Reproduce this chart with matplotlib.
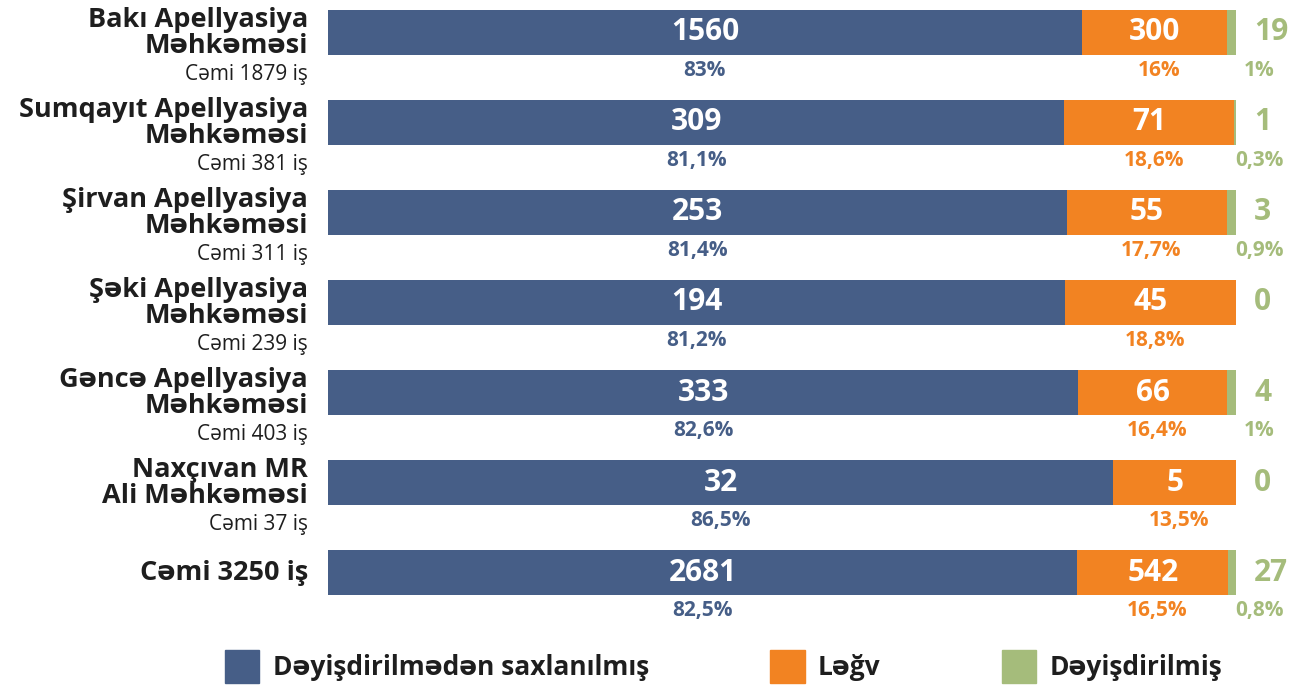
import numpy as np
import matplotlib
matplotlib.use("Agg")
from matplotlib import pyplot as plt
from matplotlib.patches import Patch

plt.rcParams['font.family'] = ['Open Sans', 'DejaVu Sans']

# data
courts = ["Bakı Apellyasiya\nMəhkəməsi", "Sumqayıt Apellyasiya\nMəhkəməsi",
          "Şirvan Apellyasiya\nMəhkəməsi", "Şəki Apellyasiya\nMəhkəməsi",
          "Gəncə Apellyasiya\nMəhkəməsi", "Naxçıvan MR\nAli Məhkəməsi", ""]
totals_txt = ["Cəmi 1879 iş", "Cəmi 381 iş", "Cəmi 311 iş", "Cəmi 239 iş",
              "Cəmi 403 iş", "Cəmi 37 iş", "Cəmi 3250 iş"]
kept = [1560, 309, 253, 194, 333, 32, 2681]
cancelled = [300, 71, 55, 45, 66, 5, 542]
changed = [19, 1, 3, 0, 4, 0, 27]
kept_pct = ["83%", "81,1%", "81,4%", "81,2%", "82,6%", "86,5%", "82,5%"]
canc_pct = ["16%", "18,6%", "17,7%", "18,8%", "16,4%", "13,5%", "16,5%"]
chg_pct = ["1%", "0,3%", "0,9%", "", "1%", "", "0,8%"]

blue = "#465E87"
orange = "#F28322"
green = "#A5BC7B"
dark = "#1E1E1E"

kept = np.array(kept)
cancelled = np.array(cancelled)
changed = np.array(changed)
tot = kept + cancelled + changed
k = kept / tot
c = cancelled / tot
g = changed / tot
y = np.arange(len(kept))

fig = plt.figure(figsize=(12.99, 6.86), dpi=100)
ax = fig.add_axes([328/1299, 0, 908/1299, 1])
h = 0.51
ax.barh(y, k, height=h, color=blue)
ax.barh(y, c, left=k, height=h, color=orange)
ax.barh(y, g, left=k + c, height=h, color=green)
ax.set_xlim(0, 1)
ax.set_ylim(7.261, -0.361)
ax.axis("off")

for i in y:
    ax.text(k[i]/2, i, str(kept[i]), ha="center", va="center", color="white",
            fontsize=21.5, fontweight="bold")
    ax.text(k[i] + c[i]/2, i, str(cancelled[i]), ha="center", va="center",
            color="white", fontsize=21.5, fontweight="bold")
    ax.text(1.02, i, str(changed[i]), ha="left", va="center", color=green,
            fontsize=21.5, fontweight="bold", clip_on=False)
    ax.text(k[i]/2, i + 0.42, kept_pct[i], ha="center", va="center", color=blue,
            fontsize=15, fontweight="bold")
    ax.text(k[i] + c[i]/2 + 0.005, i + 0.42, canc_pct[i], ha="center", va="center",
            color=orange, fontsize=15, fontweight="bold")
    ax.text(1.026, i + 0.42, chg_pct[i], ha="center", va="center", color=green,
            fontsize=15, fontweight="bold", clip_on=False)
    if courts[i]:
        ax.text(-0.022, i + 0.01, courts[i], ha="right", va="center", color=dark,
                fontsize=19.5, fontweight="bold", linespacing=1.0, clip_on=False)
        ax.text(-0.022, i + 0.47, totals_txt[i], ha="right", va="center", color=dark,
                fontsize=15, clip_on=False)
    else:
        ax.text(-0.022, i, totals_txt[i], ha="right", va="center", color=dark,
                fontsize=19.5, fontweight="bold", clip_on=False)

handles = [Patch(color=blue, label="Dəyişdirilmədən saxlanılmış"),
           Patch(color=orange, label="Ləğv"),
           Patch(color=green, label="Dəyişdirilmiş")]
fig.legend(handles=handles, loc="lower center", bbox_to_anchor=(0.557, -0.03), ncol=3,
           frameon=False, handlelength=1.3, handleheight=1.55, handletextpad=0.5,
           columnspacing=4.6, prop={"size": 19, "weight": "bold"}, labelcolor=dark)

fig.savefig("out.png", dpi=100)
